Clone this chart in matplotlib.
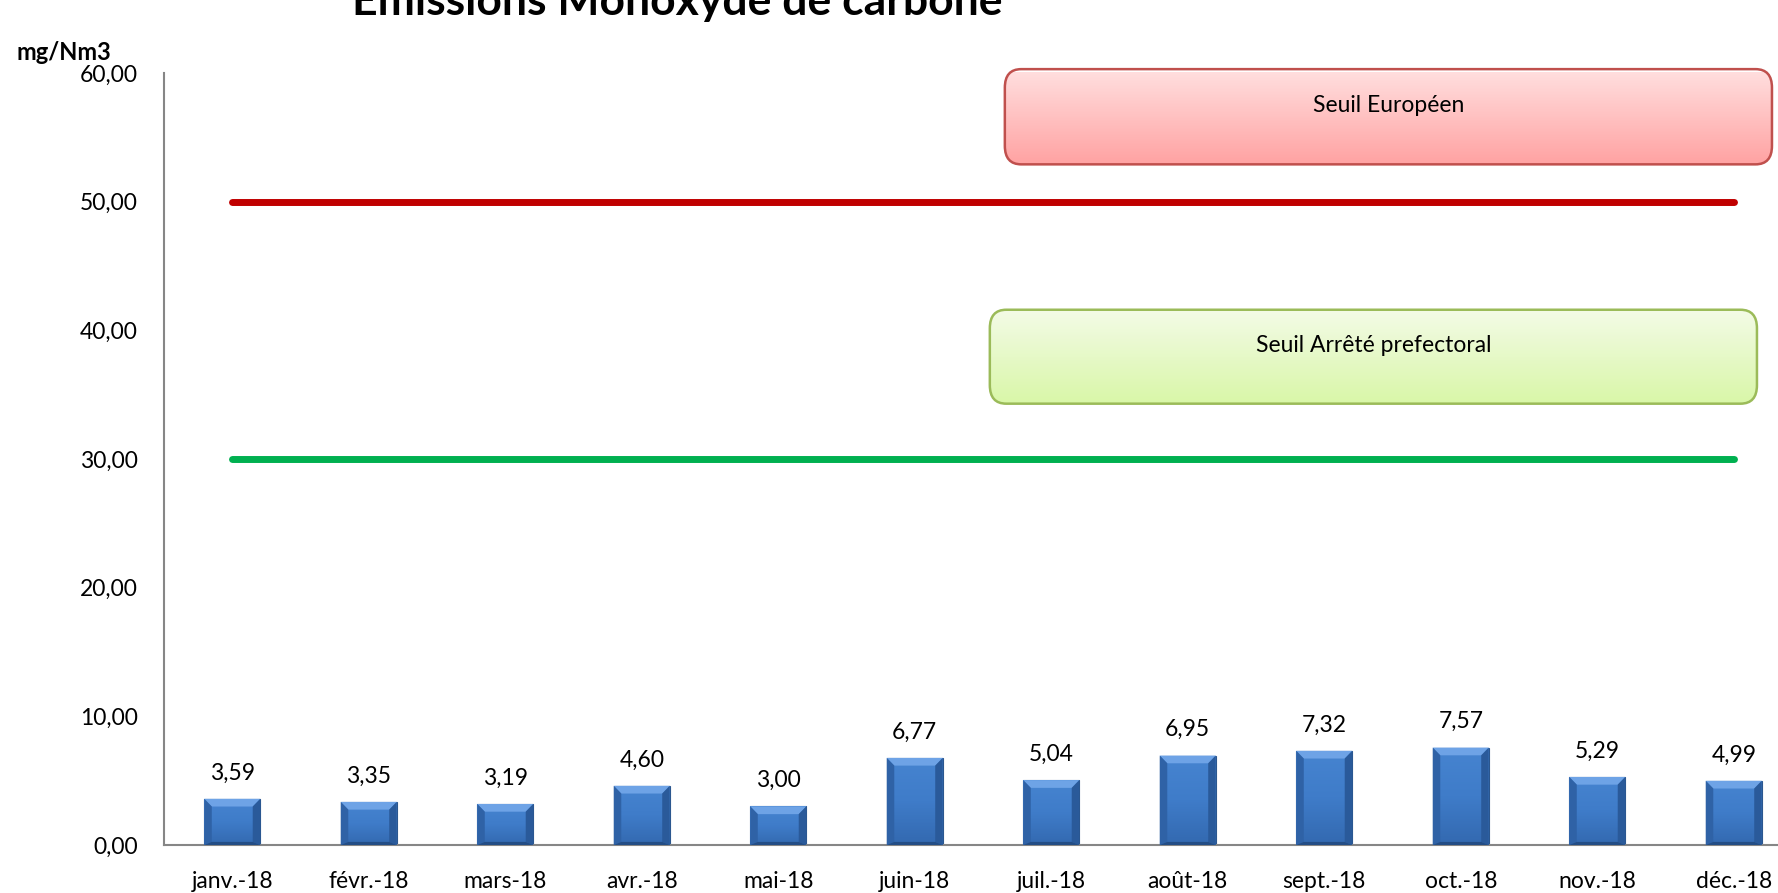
import numpy as np
import matplotlib.pyplot as plt
from matplotlib.patches import FancyBboxPatch, Polygon
from matplotlib.colors import LinearSegmentedColormap

# monthly CO emissions (mg/Nm3)
months = ['janv.-18', 'févr.-18', 'mars-18', 'avr.-18', 'mai-18', 'juin-18',
          'juil.-18', 'août-18', 'sept.-18', 'oct.-18', 'nov.-18', 'déc.-18']
co_values = [3.59, 3.35, 3.19, 4.60, 3.00, 6.77, 5.04, 6.95, 7.32, 7.57, 5.29, 4.99]
seuil_europeen = 50
seuil_prefectoral = 30
yticks = [0, 10, 20, 30, 40, 50, 60]

plt.rcParams['font.family'] = ['Lato', 'DejaVu Sans']
fs = 16.5

fig = plt.figure(figsize=(17.78, 8.93), dpi=100)
ax = fig.add_axes([164/1778, 1-845/893, 1-164/1778, (845-73)/893])

x = np.arange(len(months))

#bars with a bevelled blue look
bars = ax.bar(x, co_values, width=0.41, color='#3b75c2', edgecolor='#2b578f', linewidth=0.8, zorder=2)
face_cmap = LinearSegmentedColormap.from_list('face', ['#3369b0', '#3f7cc9', '#4684d0'])
bx, by = 0.055, 0.6  #bevel size in data units
for b in bars:
  x0, w, h = b.get_x(), b.get_width(), b.get_height()
  x1 = x0 + w
  im = ax.imshow(np.linspace(0, 1, 64).reshape(-1, 1), extent=[x0, x1, 0, h], origin='lower',
                 aspect='auto', cmap=face_cmap, zorder=3)
  im.set_clip_path(b)
  ax.add_patch(Polygon([(x0, h), (x1, h), (x1-bx, h-by), (x0+bx, h-by)], closed=True,
                       facecolor='#6ea3e6', edgecolor='none', zorder=4))
  ax.add_patch(Polygon([(x0, 0), (x0, h), (x0+bx, h-by), (x0+bx, by*0.4)], closed=True,
                       facecolor='#2f62a6', edgecolor='none', zorder=4))
  ax.add_patch(Polygon([(x1, 0), (x1, h), (x1-bx, h-by), (x1-bx, by*0.4)], closed=True,
                       facecolor='#2a5a9a', edgecolor='none', zorder=4))
  ax.add_patch(Polygon([(x0, 0), (x1, 0), (x1-bx, by*0.4), (x0+bx, by*0.4)], closed=True,
                       facecolor='#234d85', edgecolor='none', zorder=4))

#value labels
for xi, v in zip(x, co_values):
  ax.annotate(('%.2f' % v).replace('.', ','), (xi, v), xytext=(0, 11), textcoords='offset points',
              ha='center', va='bottom', fontsize=fs, color='black')

#threshold lines
ax.plot([x[0], x[-1]], [seuil_europeen]*2, color='#c00000', lw=5, solid_capstyle='round', zorder=2)
ax.plot([x[0], x[-1]], [seuil_prefectoral]*2, color='#00b050', lw=5, solid_capstyle='round', zorder=2)

#annotation boxes with vertical gradient
def grad_box(x0, x1, y0, y1, top, bottom, edge, label):
  box = FancyBboxPatch((x0, y0), x1-x0, y1-y0, boxstyle='round,pad=0,rounding_size=0.12',
                       mutation_aspect=12, facecolor='none', edgecolor=edge, lw=1.8, zorder=6, clip_on=False)
  ax.add_patch(box)
  cm = LinearSegmentedColormap.from_list('g', [bottom, top])
  im = ax.imshow(np.linspace(0, 1, 64).reshape(-1, 1), extent=[x0, x1, y0, y1], origin='lower',
                 aspect='auto', cmap=cm, zorder=5)
  im.set_clip_path(box)
  im.set_clip_box(None)
  ax.text((x0+x1)/2, y1-(y1-y0)*0.38, label, ha='center', va='center', fontsize=fs, zorder=7)

grad_box(5.66, 11.28, 52.9, 60.3, '#ffe0e0', '#ffa3a3', '#c0504d', 'Seuil Européen')
grad_box(5.55, 11.17, 34.3, 41.6, '#f3fbe6', '#d9f7a8', '#9bbb59', 'Seuil Arrêté prefectoral')

ax.set_xlim(-0.5, -0.5 + (1778-164)/136.5)
ax.set_ylim(0, 60)
ax.set_xticks(x)
ax.set_xticklabels(months, fontsize=fs)
ax.set_yticks(yticks)
ax.set_yticklabels([('%.2f' % t).replace('.', ',') for t in yticks], fontsize=fs)
ax.tick_params(axis='both', length=0)
ax.tick_params(axis='x', pad=18.5)
ax.tick_params(axis='y', pad=19)
for s in ['top', 'right']:
  ax.spines[s].set_visible(False)
for s in ['left', 'bottom']:
  ax.spines[s].set_color('#868686')
  ax.spines[s].set_linewidth(1.5)

fig.text(64/1778, 1-53/893, 'mg/Nm3', ha='center', va='center', fontsize=17, fontweight='bold')
fig.text(677/1778, 1-15/893, 'Emissions Monoxyde de carbone', ha='center', va='baseline',
         fontsize=32, fontweight='bold')

plt.savefig('out.png', dpi=100)
